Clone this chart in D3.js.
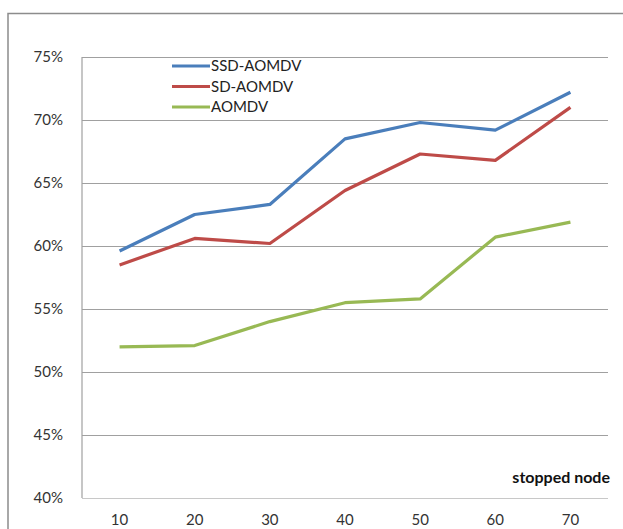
<!DOCTYPE html>
<html>
<head>
<meta charset="utf-8">
<script src="https://cdn.jsdelivr.net/npm/d3@7"></script>
<style>
  body { margin: 0; background: #fff; }
  svg { display: block; font-family: Lato, "Open Sans", sans-serif; }
</style>
</head>
<body>
<div id="chart"></div>
<script>
"use strict";

// stopped node count on x
var categories = ["10", "20", "30", "40", "50", "60", "70"];
var seriesNames = ["SSD-AOMDV", "SD-AOMDV", "AOMDV"];
var ssdAomdv = [0.596, 0.625, 0.633, 0.685, 0.698, 0.692, 0.722];
var sdAomdv = [0.585, 0.606, 0.602, 0.644, 0.673, 0.668, 0.710];
var aomdv = [0.520, 0.521, 0.540, 0.555, 0.558, 0.607, 0.619];
var yTicks = [0.40, 0.45, 0.50, 0.55, 0.60, 0.65, 0.70, 0.75];

var colors = ["#4a7ebb", "#be4b48", "#98b954"];

var width = 623,
    height = 529,
    plotLeft = 82,
    plotRight = 608,
    plotTop = 57,
    plotBottom = 498;

var series = [ssdAomdv, sdAomdv, aomdv].map(function(vals, i) {
  return { name: seriesNames[i], values: vals, color: colors[i] };
});

var svg = d3.select("#chart").append("svg")
  .attr("width", width)
  .attr("height", height);

// outer chart border (runs off the right/bottom edge)
svg.append("rect")
  .attr("x", 8).attr("y", 13.5)
  .attr("width", 700).attr("height", 600)
  .attr("fill", "none")
  .attr("stroke", "#8c8c8c")
  .attr("stroke-width", 1.5);

var x = d3.scaleBand().domain(categories).range([plotLeft, plotRight]);
var y = d3.scaleLinear().domain([0.40, 0.75]).range([plotBottom, plotTop]);

// gridlines + y labels
var yAxis = svg.append("g")
  .attr("transform", "translate(" + plotLeft + ",0)")
  .call(d3.axisLeft(y)
    .tickValues(yTicks)
    .tickFormat(d3.format(".0%"))
    .tickSize(-(plotRight - plotLeft))
    .tickPadding(19));
yAxis.select(".domain").remove();
yAxis.selectAll(".tick line")
  .attr("stroke", function(d) { return d === 0.40 ? "#c8c8c8" : "#a0a0a0"; })
  .attr("stroke-width", 1.2);
yAxis.selectAll(".tick text")
  .attr("font-size", 15)
  .attr("fill", "#333")
  .style("font-family", "Lato, sans-serif");

// left axis line
svg.append("line")
  .attr("x1", plotLeft).attr("x2", plotLeft)
  .attr("y1", plotTop).attr("y2", plotBottom)
  .attr("stroke", "#a0a0a0")
  .attr("stroke-width", 1.2);

// x labels
var xAxis = svg.append("g")
  .attr("transform", "translate(0," + plotBottom + ")")
  .call(d3.axisBottom(x).tickSize(0).tickPadding(16));
xAxis.select(".domain").remove();
xAxis.selectAll(".tick text")
  .attr("font-size", 15)
  .attr("fill", "#333")
  .style("font-family", "Lato, sans-serif");

svg.append("text")
  .attr("x", 610).attr("y", 483)
  .attr("text-anchor", "end")
  .attr("font-size", 16)
  .attr("font-weight", "bold")
  .attr("fill", "#111")
  .text("stopped node");

var line = d3.line()
  .x(function(d, i) { return x(categories[i]) + x.bandwidth() / 2; })
  .y(function(d) { return y(d); });

svg.selectAll("path.series").data(series).enter()
  .append("path")
  .attr("class", "series")
  .attr("d", function(d) { return line(d.values); })
  .attr("fill", "none")
  .attr("stroke", function(d) { return d.color; })
  .attr("stroke-width", 3.2)
  .attr("stroke-linejoin", "round");

// legend
var legend = svg.selectAll("g.legend").data(series).enter()
  .append("g")
  .attr("class", "legend")
  .attr("transform", function(d, i) { return "translate(172," + (66 + i * 20.5) + ")"; });
legend.append("line")
  .attr("x1", 0).attr("x2", 38)
  .attr("stroke", function(d) { return d.color; })
  .attr("stroke-width", 3.2);
legend.append("text")
  .attr("x", 39).attr("y", 5)
  .attr("font-size", 15)
  .attr("fill", "#222")
  .text(function(d) { return d.name; });
</script>
</body>
</html>
